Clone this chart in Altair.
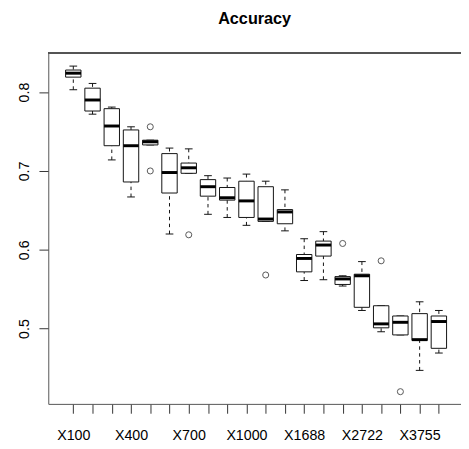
import altair as alt
import pandas as pd

# ---- data ----
categories = ["X100", "X200", "X300", "X400", "X500", "X600", "X700", "X800", "X900", "X1000",
              "X1229", "X1459", "X1688", "X2033", "X2377", "X2722", "X3066", "X3411", "X3755", "X4100"]
shown_labels = ["X100", "X400", "X700", "X1000", "X1688", "X2722", "X3755"]

whisker_hi = [0.833, 0.811, 0.781, 0.756, 0.739, 0.729, 0.728, 0.694, 0.691, 0.696,
              0.687, 0.676, 0.614, 0.623, 0.567, 0.585, 0.529, 0.516, 0.534, 0.523]
q3 = [0.828, 0.805, 0.779, 0.752, 0.739, 0.722, 0.710, 0.689, 0.679, 0.687,
      0.680, 0.651, 0.594, 0.611, 0.566, 0.569, 0.529, 0.516, 0.519, 0.516]
median = [0.824, 0.790, 0.757, 0.732, 0.737, 0.698, 0.704, 0.680, 0.666, 0.662,
          0.639, 0.648, 0.589, 0.606, 0.563, 0.567, 0.506, 0.508, 0.486, 0.509]
q1 = [0.819, 0.776, 0.732, 0.686, 0.733, 0.672, 0.697, 0.668, 0.663, 0.641,
      0.636, 0.633, 0.572, 0.592, 0.556, 0.527, 0.501, 0.492, 0.485, 0.475]
whisker_lo = [0.803, 0.772, 0.714, 0.667, 0.733, 0.620, 0.697, 0.645, 0.641, 0.631,
              0.636, 0.624, 0.561, 0.562, 0.554, 0.523, 0.496, 0.492, 0.447, 0.469]

outlier_cat = ["X500", "X500", "X700", "X1229", "X2377", "X3066", "X3411"]
outlier_val = [0.756, 0.700, 0.619, 0.568, 0.608, 0.586, 0.420]

y_ticks = [0.5, 0.6, 0.7, 0.8]

# ---- tables ----
pos = list(range(1, len(categories) + 1))
df = pd.DataFrame({
    "category": categories, "pos": pos,
    "whisker_hi": whisker_hi, "q3": q3, "median": median, "q1": q1, "whisker_lo": whisker_lo,
})
pos_of = {c: i + 1 for i, c in enumerate(categories)}
odf = pd.DataFrame({"category": outlier_cat, "value": outlier_val})
odf["pos"] = odf["category"].map(pos_of)

label_list = [c if c in shown_labels else "" for c in categories]
label_expr = "[" + ",".join("'%s'" % l for l in label_list) + "][datum.value - 1]"

FONT = "Liberation Sans"
INK = "#111111"

xs = alt.Scale(domain=[-0.3, 21.15], nice=False, zero=False)
ys = alt.Scale(domain=[0.4045, 0.8495], nice=False, zero=False)

x_axis = alt.Axis(values=pos, labelExpr=label_expr, title=None, grid=False,
                  tickSize=9.5, labelPadding=16, labelFont=FONT, labelFontSize=14.5,
                  labelColor="#000000", domainColor="#555555", tickColor="#333333",
                  labelOverlap=False, labelFlush=False, labelBound=False)
y_axis = alt.Axis(values=y_ticks, format=".1f", title=None, grid=False,
                  tickSize=9.5, labelPadding=8, labelAngle=270, labelAlign="center",
                  labelBaseline="bottom", labelFont=FONT, labelFontSize=14.5,
                  labelColor="#000000", domainColor="#555555", tickColor="#333333",
                  labelOverlap=False)

base = alt.Chart(df).transform_calculate(
    box_l="datum.pos - 0.4", box_r="datum.pos + 0.4",
    cap_l="datum.pos - 0.2", cap_r="datum.pos + 0.2",
)

whisk_up = base.mark_rule(color=INK, strokeWidth=1, strokeDash=[3.5, 3.5]).encode(
    x=alt.X("pos:Q", scale=xs, axis=x_axis),
    y=alt.Y("whisker_hi:Q", scale=ys, axis=y_axis),
    y2="q3:Q",
)
whisk_dn = base.mark_rule(color=INK, strokeWidth=1, strokeDash=[3.5, 3.5]).encode(
    x=alt.X("pos:Q", scale=xs, axis=x_axis), y=alt.Y("whisker_lo:Q", scale=ys, axis=y_axis), y2="q1:Q",
)
cap_up = base.mark_rule(color=INK, strokeWidth=1).encode(
    x=alt.X("cap_l:Q", scale=xs, axis=x_axis), x2="cap_r:Q",
    y=alt.Y("whisker_hi:Q", scale=ys, axis=y_axis),
)
cap_dn = base.mark_rule(color=INK, strokeWidth=1).encode(
    x=alt.X("cap_l:Q", scale=xs, axis=x_axis), x2="cap_r:Q",
    y=alt.Y("whisker_lo:Q", scale=ys, axis=y_axis),
)
boxes = base.mark_rect(fill="white", stroke=INK, strokeWidth=1).encode(
    x=alt.X("box_l:Q", scale=xs, axis=x_axis), x2="box_r:Q",
    y=alt.Y("q1:Q", scale=ys, axis=y_axis), y2="q3:Q",
)
medians = base.mark_rule(color="#000000", strokeWidth=3).encode(
    x=alt.X("box_l:Q", scale=xs, axis=x_axis), x2="box_r:Q",
    y=alt.Y("median:Q", scale=ys, axis=y_axis),
)
outliers = alt.Chart(odf).mark_point(shape="circle", filled=False, color=INK,
                                     size=38, strokeWidth=1).encode(
    x=alt.X("pos:Q", scale=xs, axis=x_axis), y=alt.Y("value:Q", scale=ys, axis=y_axis),
)
top_frame = alt.Chart(df).mark_rule(color="#555555", strokeWidth=1).encode(
    x=alt.value(0), x2=alt.value(420), y=alt.value(0),
)

chart = alt.layer(
    whisk_up, whisk_dn, cap_up, cap_dn, boxes, medians, outliers, top_frame
).properties(
    width=420, height=357,
    title=alt.TitleParams("Accuracy", font=FONT, fontSize=16.5, fontWeight="bold",
                          color="#000000", anchor="middle", baseline="alphabetic",
                          offset=13),
    padding={"left": 41, "top": 42, "right": 0, "bottom": 41},
    autosize="none",
).configure_view(stroke=None).configure_axis(labelOverlap=False)

chart.save("out.html", embed_options={"renderer": "svg", "actions": False})
